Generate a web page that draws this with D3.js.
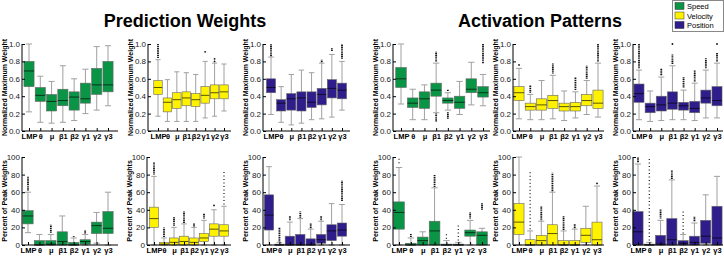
<!DOCTYPE html>
<html>
<head>
<meta charset="utf-8">
<script src="https://cdn.jsdelivr.net/npm/d3@7/dist/d3.min.js"></script>
<style>
body { margin: 0; background: #fff; }
svg { display: block; font-family: Arial, "Liberation Sans", sans-serif; }
</style>
</head>
<body>
<svg id="chart" width="724" height="256"></svg>
<script>
// categories and ticks
var categories = ["LMP", "θ", "μ", "β1", "β2", "γ1", "γ2", "γ3"];
var ticksMax = [0, 0.2, 0.4, 0.6, 0.8, 1.0];
var ticksPct = [0, 20, 40, 60, 80, 100];
var legendNames = ["Speed", "Velocity", "Position"];
var titles = ["Prediction Weights", "Activation Patterns"];

// box stats per category: [whiskerLow, q1, median, q3, whiskerHigh]
var predSpeedMax = [[0.22,0.51,0.69,0.80,1.0],[0.10,0.34,0.41,0.50,0.63],[0.09,0.23,0.34,0.42,0.57],[0.10,0.29,0.35,0.48,0.75],[0.12,0.24,0.39,0.45,0.60],[0.20,0.32,0.37,0.55,0.71],[0.24,0.42,0.53,0.72,0.97],[0.29,0.45,0.53,0.80,0.98]];
var predVelMax = [[0.17,0.42,0.50,0.58,0.82],[0.11,0.22,0.33,0.38,0.59],[0.11,0.26,0.36,0.44,0.68],[0.11,0.29,0.38,0.45,0.67],[0.11,0.28,0.36,0.43,0.65],[0.15,0.32,0.41,0.51,0.80],[0.17,0.37,0.44,0.53,0.78],[0.23,0.37,0.45,0.53,0.77]];
var predPosMax = [[0.19,0.44,0.50,0.60,0.85],[0.10,0.23,0.32,0.36,0.51],[0.07,0.24,0.37,0.43,0.65],[0.09,0.23,0.38,0.45,0.70],[0.13,0.27,0.33,0.45,0.67],[0.14,0.30,0.42,0.49,0.78],[0.16,0.38,0.49,0.59,0.88],[0.24,0.37,0.47,0.55,0.80]];
var actSpeedMax = [[0.31,0.50,0.60,0.73,1.0],[0.13,0.27,0.32,0.38,0.48],[0.13,0.26,0.37,0.45,0.53],[0.21,0.40,0.47,0.55,0.78],[0.24,0.32,0.35,0.38,0.44],[0.19,0.26,0.33,0.40,0.57],[0.30,0.44,0.48,0.60,0.79],[0.29,0.39,0.44,0.51,0.65]];
var actVelMax = [[0.14,0.35,0.44,0.51,0.72],[0.13,0.24,0.28,0.32,0.42],[0.13,0.24,0.30,0.37,0.58],[0.14,0.26,0.35,0.41,0.64],[0.12,0.23,0.28,0.32,0.46],[0.15,0.23,0.28,0.33,0.45],[0.19,0.29,0.35,0.42,0.58],[0.16,0.26,0.32,0.47,0.78]];
var actPosMax = [[0.13,0.33,0.43,0.54,0.70],[0.11,0.21,0.28,0.32,0.46],[0.12,0.23,0.30,0.40,0.62],[0.13,0.25,0.32,0.45,0.75],[0.13,0.24,0.29,0.33,0.47],[0.12,0.21,0.26,0.34,0.55],[0.15,0.32,0.38,0.47,0.70],[0.15,0.29,0.35,0.51,0.78]];

var predSpeedPct = [[14,24,33,39,60],[0,0,0,5,12],[0,0,1,5,12],[0,0,4,15,33],[0,0,0,3,8],[0,1,4,6,12],[2,13,22,26,37],[0,13,19,38,60]];
var predVelPct = [[0,20,30,43,78],[0,0,1,3,8],[0,0,3,8,20],[0,0,4,10,24],[0,0,3,8,20],[0,4,8,13,28],[0,10,18,24,40],[0,10,16,23,44]];
var predPosPct = [[0,17,34,57,89],[0,0,0,1,3],[0,0,0,10,26],[0,0,0,12,30],[0,0,0,7,18],[0,2,6,12,27],[0,5,16,23,47],[0,10,17,25,46]];
var actSpeedPct = [[0,18,37,49,88],[0,0,0,2,8],[0,0,5,9,15],[0,0,16,27,65],[0,0,0,1,5],[0,0,0,1,3],[0,10,14,17,28],[0,0,11,15,19]];
var actVelPct = [[0,12,26,47,100],[0,0,0,6,16],[0,0,5,11,27],[0,0,13,23,60],[0,0,0,5,16],[0,0,0,5,18],[0,3,11,19,44],[0,0,6,26,67]];
var actPosPct = [[0,0,15,38,92],[0,0,0,1,3],[0,0,1,11,28],[0,0,6,30,74],[0,0,2,5,12],[0,0,3,10,25],[0,2,10,28,57],[0,0,8,44,78]];

// outliers: [categoryIndex, from, to, sparse]
var predSpeedMaxOut = [];
var predVelMaxOut = [[0,0.84,1.0,0],[5,0.91,0.91,0],[6,0.80,0.80,0],[6,0.83,0.83,0]];
var predPosMaxOut = [[0,0.86,1.0,0],[5,0.79,0.82,0],[6,0.92,0.95,0],[7,0.83,1.0,0]];
var actSpeedMaxOut = [[3,0.80,0.91,0],[3,0.11,0.20,0],[4,0.46,0.48,0],[4,0.14,0.22,0],[7,0.78,1.0,0]];
var actVelMaxOut = [[0,0.76,0.76,0],[1,0.44,0.53,0],[3,0.66,0.78,0],[5,0.47,0.62,0],[6,0.60,0.75,0],[7,0.80,1.0,0]];
var actPosMaxOut = [[0,0.72,1.0,0],[2,0.64,0.72,0],[3,0.77,0.88,0],[3,1.0,1.0,0],[4,0.50,0.62,0],[5,0.57,0.70,0],[6,0.72,0.84,0],[7,0.80,0.90,0],[7,1.0,1.0,0]];

var predSpeedPctOut = [[0,62,78,0],[2,14,23,0],[4,9,10,0],[5,13,17,0]];
var predVelPctOut = [[0,80,94,0],[1,9,20,0],[2,22,32,0],[3,25,38,0],[4,21,25,0],[5,30,36,0],[6,45,45,0],[7,46,83,1]];
var predPosPctOut = [[1,4,20,0],[2,28,33,0],[3,31,38,0],[4,19,25,0],[5,28,33,0],[7,50,73,0]];
var actSpeedPctOut = [[0,93,100,1],[1,9,13,0],[3,66,80,0],[4,7,13,1],[5,5,25,1],[6,30,37,0],[7,40,48,0]];
var actVelPctOut = [[1,18,85,1],[2,28,44,0],[3,61,82,0],[4,17,33,0],[5,19,24,0],[7,70,70,0]];
var actPosPctOut = [[0,94,100,0],[1,5,100,1],[2,30,41,0],[3,75,85,0],[4,13,38,1],[5,27,32,0]];

var colors = ["#0a9445", "#fff200", "#2e1d8a"];

var panels = [
  {stats: predSpeedMax, out: predSpeedMaxOut, color: 0, row: 0, ax: 22, c0: 29, c1: 108, x1: 118},
  {stats: predVelMax, out: predVelMaxOut, color: 1, row: 0, ax: 148, c0: 158, c1: 224, x1: 231},
  {stats: predPosMax, out: predPosMaxOut, color: 2, row: 0, ax: 263, c0: 271, c1: 342, x1: 350},
  {stats: actSpeedMax, out: actSpeedMaxOut, color: 0, row: 0, ax: 393, c0: 401, c1: 483, x1: 490},
  {stats: actVelMax, out: actVelMaxOut, color: 1, row: 0, ax: 513, c0: 519, c1: 598, x1: 604},
  {stats: actPosMax, out: actPosMaxOut, color: 2, row: 0, ax: 633, c0: 639, c1: 717, x1: 723},
  {stats: predSpeedPct, out: predSpeedPctOut, color: 0, row: 1, ax: 22, c0: 28, c1: 108, x1: 118},
  {stats: predVelPct, out: predVelPctOut, color: 1, row: 1, ax: 147, c0: 154, c1: 224, x1: 231},
  {stats: predPosPct, out: predPosPctOut, color: 2, row: 1, ax: 263, c0: 269, c1: 342, x1: 350},
  {stats: actSpeedPct, out: actSpeedPctOut, color: 0, row: 1, ax: 393, c0: 399, c1: 482, x1: 490},
  {stats: actVelPct, out: actVelPctOut, color: 1, row: 1, ax: 513, c0: 519, c1: 597, x1: 604},
  {stats: actPosPct, out: actPosPctOut, color: 2, row: 1, ax: 633, c0: 638, c1: 717, x1: 723}
];

var svg = d3.select("#chart");

// titles
svg.selectAll("text.title").data(titles).enter().append("text")
  .attr("class", "title")
  .attr("x", function(d, i) { return i == 0 ? 185 : 540; })
  .attr("y", 27)
  .attr("text-anchor", "middle")
  .attr("font-size", "18px")
  .attr("font-weight", "bold")
  .text(function(d) { return d; });

panels.forEach(function(p) {
  var g = svg.append("g");
  var top = p.row == 0;
  var y = d3.scaleLinear()
    .domain(top ? [0, 1] : [0, 100])
    .range(top ? [131, 44] : [245, 157]);
  var x = d3.scalePoint().domain(categories).range([p.c0, p.c1]);
  var bw = Math.min(11, x.step() * 0.9);
  var fill = colors[p.color];

  var boxes = g.selectAll("g.box").data(p.stats).enter().append("g");
  // whiskers
  boxes.append("line")
    .attr("x1", function(d, i) { return x(categories[i]); })
    .attr("x2", function(d, i) { return x(categories[i]); })
    .attr("y1", function(d) { return y(d[0]); })
    .attr("y2", function(d) { return y(d[4]); })
    .attr("stroke", "#a0a0a0").attr("stroke-width", 1);
  boxes.append("line")
    .attr("x1", function(d, i) { return x(categories[i]) - bw * 0.3; })
    .attr("x2", function(d, i) { return x(categories[i]) + bw * 0.3; })
    .attr("y1", function(d) { return y(d[4]); })
    .attr("y2", function(d) { return y(d[4]); })
    .attr("stroke", "#a0a0a0").attr("stroke-width", 1);
  boxes.append("line")
    .attr("x1", function(d, i) { return x(categories[i]) - bw * 0.3; })
    .attr("x2", function(d, i) { return x(categories[i]) + bw * 0.3; })
    .attr("y1", function(d) { return y(d[0]); })
    .attr("y2", function(d) { return y(d[0]); })
    .attr("stroke", "#a0a0a0").attr("stroke-width", 1);
  // box
  boxes.append("rect")
    .attr("x", function(d, i) { return x(categories[i]) - bw / 2; })
    .attr("y", function(d) { return y(d[3]); })
    .attr("width", bw)
    .attr("height", function(d) { return Math.max(1, y(d[1]) - y(d[3])); })
    .attr("fill", fill)
    .attr("stroke", "#666").attr("stroke-width", 0.6);
  // median
  boxes.append("line")
    .attr("x1", function(d, i) { return x(categories[i]) - bw / 2; })
    .attr("x2", function(d, i) { return x(categories[i]) + bw / 2; })
    .attr("y1", function(d) { return y(d[2]); })
    .attr("y2", function(d) { return y(d[2]); })
    .attr("stroke", "rgba(0,0,0,0.65)").attr("stroke-width", 1);

  // outliers
  p.out.forEach(function(o) {
    var cx = x(categories[o[0]]);
    if (o[1] == o[2]) {
      g.append("circle").attr("cx", cx).attr("cy", y(o[1])).attr("r", 0.9).attr("fill", "#111");
    } else {
      g.append("line")
        .attr("x1", cx).attr("x2", cx)
        .attr("y1", y(o[1])).attr("y2", y(o[2]))
        .attr("stroke", "#111")
        .attr("stroke-width", o[3] ? 1.2 : 1.8)
        .attr("stroke-dasharray", o[3] ? "1,2.5" : "1.2,0.6");
    }
  });

  // axes
  var yAxis = d3.axisLeft(y)
    .tickValues(top ? ticksMax : ticksPct)
    .tickFormat(top ? d3.format(".1f") : d3.format("d"))
    .tickSize(-3).tickSizeOuter(0).tickPadding(2);
  var ya = g.append("g").attr("transform", "translate(" + p.ax + ",0)").call(yAxis);
  ya.select(".domain").remove();
  ya.selectAll("text").attr("font-size", "8px").attr("fill", "#222");

  var xAxis = d3.axisBottom(x).tickSize(-3).tickSizeOuter(0).tickPadding(3);
  var xa = g.append("g").attr("transform", "translate(0," + y(0) + ")").call(xAxis);
  xa.select(".domain").remove();
  xa.selectAll("text").attr("font-size", "7.5px").attr("font-weight", "bold").attr("fill", "#000");

  g.append("line").attr("x1", p.ax).attr("x2", p.ax).attr("y1", y.range()[0]).attr("y2", y.range()[1]).attr("stroke", "#000");
  g.append("line").attr("x1", p.ax).attr("x2", p.x1).attr("y1", y(0)).attr("y2", y(0)).attr("stroke", "#000");

  // y label
  var cy = (y.range()[0] + y.range()[1]) / 2;
  g.append("text")
    .attr("transform", "translate(" + (p.ax - 15) + "," + cy + ") rotate(-90)")
    .attr("text-anchor", "middle")
    .attr("font-size", "7px")
    .attr("font-weight", "bold")
    .text(top ? "Normalized Maximum Weight" : "Percent of Peak Weights");
});

// legend
var lg = svg.append("g").attr("transform", "translate(672,0)");
lg.append("rect").attr("x", 0.5).attr("y", 0.5).attr("width", 51).attr("height", 31)
  .attr("fill", "#fff").attr("stroke", "#888");
var items = lg.selectAll("g.item").data(legendNames).enter().append("g")
  .attr("transform", function(d, i) { return "translate(3," + (2.5 + i * 9.5) + ")"; });
items.append("rect").attr("width", 9).attr("height", 7)
  .attr("fill", function(d, i) { return colors[i]; }).attr("stroke", "#333").attr("stroke-width", 0.5);
items.append("text").attr("x", 12).attr("y", 6.5).attr("font-size", "7.5px").text(function(d) { return d; });
</script>
</body>
</html>
